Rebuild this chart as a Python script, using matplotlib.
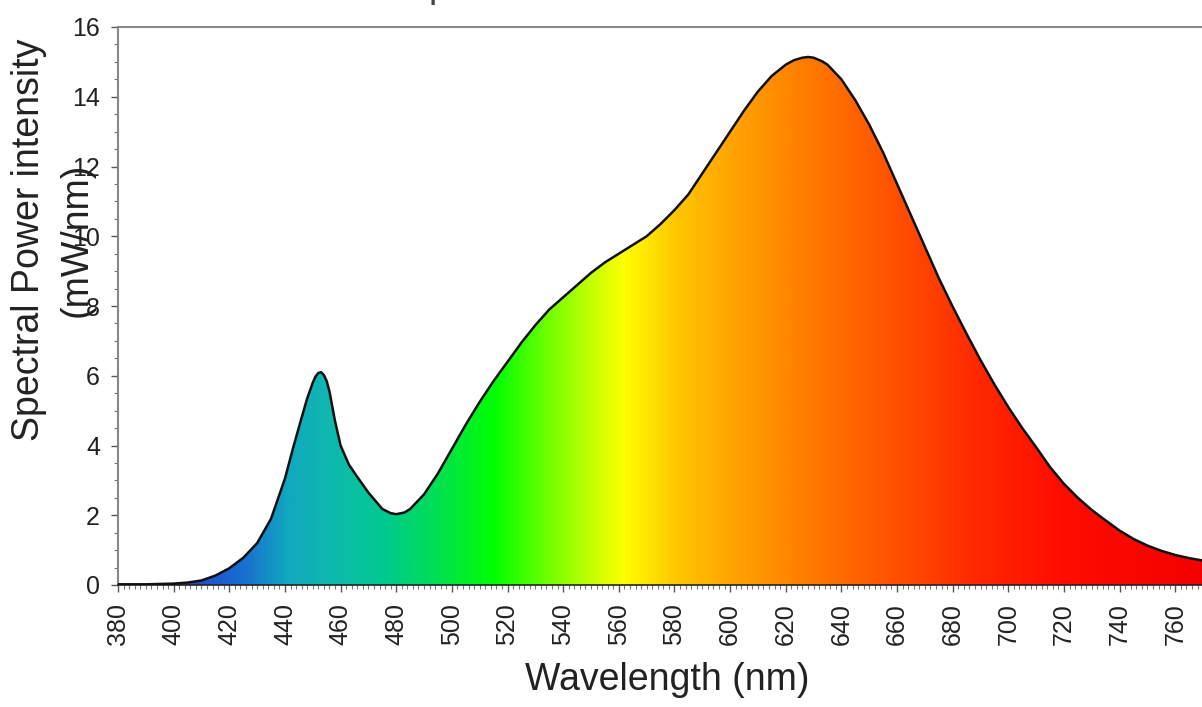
import numpy as np
import matplotlib
matplotlib.use('Agg')
import matplotlib.pyplot as plt
from matplotlib.colors import LinearSegmentedColormap
from matplotlib.ticker import MultipleLocator

# ---- data ----
wavelength = [380, 385, 390, 395, 400, 405, 410, 415, 420, 425, 430, 435, 440,
              443, 446, 448, 450, 451, 452, 453, 454, 455, 456, 458, 460, 463,
              466, 470, 475, 478, 480, 483, 485, 490, 495, 500, 505, 510, 515,
              520, 525, 530, 535, 540, 545, 550, 555, 560, 565, 570, 575, 580,
              585, 590, 595, 600, 605, 610, 615, 620, 623, 626, 628, 630, 633,
              635, 640, 645, 650, 655, 660, 665, 670, 675, 680, 685, 690, 695,
              700, 705, 710, 715, 720, 725, 730, 735, 740, 745, 750, 755, 760,
              765, 770, 775]
intensity = [0.02, 0.02, 0.02, 0.03, 0.04, 0.07, 0.13, 0.27, 0.48, 0.78, 1.2,
             1.9, 3.05, 3.95, 4.8, 5.35, 5.8, 5.98, 6.08, 6.1, 6.02, 5.85, 5.55,
             4.7, 4.0, 3.45, 3.1, 2.65, 2.18, 2.06, 2.03, 2.08, 2.18, 2.6, 3.2,
             3.9, 4.6, 5.25, 5.85, 6.4, 6.95, 7.45, 7.9, 8.25, 8.6, 8.95, 9.25,
             9.5, 9.75, 10.0, 10.35, 10.75, 11.2, 11.8, 12.4, 13.0, 13.6, 14.15,
             14.6, 14.92, 15.05, 15.12, 15.14, 15.12, 15.02, 14.92, 14.5, 13.9,
             13.2, 12.4, 11.5, 10.6, 9.7, 8.8, 7.98, 7.2, 6.45, 5.75, 5.1, 4.5,
             3.95, 3.38, 2.9, 2.5, 2.15, 1.85, 1.56, 1.32, 1.13, 0.98, 0.86,
             0.77, 0.7, 0.63]
x_ticks = list(range(380, 761, 20))
y_ticks = [0, 2, 4, 6, 8, 10, 12, 14, 16]

# spectrum colour stops (wavelength -> colour)
spec_nm = [380, 410, 425, 440, 455, 475, 495, 515, 540, 562, 580, 600, 620,
           640, 660, 690, 720, 780]
spec_col = ['#5000a0', '#1f50d0', '#1a70d0', '#10a8c0', '#10b8b0', '#00c890',
            '#00e050', '#00ff00', '#90ff00', '#ffff00', '#ffc800', '#ffa500',
            '#ff8800', '#ff6a00', '#ff5000', '#ff2800', '#ff0c00', '#f00000']

plt.rcParams['font.family'] = ['Liberation Sans', 'DejaVu Sans']

fig = plt.figure(figsize=(12.02, 7.07), dpi=100)
ax = fig.add_axes([118 / 1202, 122 / 707, 1099 / 1202, 558 / 707])

xmin, xmax = 380, 775
ymin, ymax = 0, 16

# gradient fill clipped to the area under the curve
lo, hi = spec_nm[0], spec_nm[-1]
cmap = LinearSegmentedColormap.from_list(
    'spec', [((w - lo) / (hi - lo), c) for w, c in zip(spec_nm, spec_col)])
xs = np.linspace(xmin, xmax, 1200)
grad = ((xs - lo) / (hi - lo))[None, :]
im = ax.imshow(grad, extent=[xmin, xmax, ymin, ymax], aspect='auto',
               cmap=cmap, vmin=0, vmax=1, origin='lower', zorder=1,
               interpolation='bilinear')
poly = ax.fill_between(wavelength, intensity, 0, facecolor='none',
                       edgecolor='none', zorder=1)
clip = poly.get_paths()[0]
im.set_clip_path(clip, transform=ax.transData)

ax.plot(wavelength, intensity, color='#111111', lw=1.8, zorder=3,
        solid_joinstyle='round')

ax.set_xlim(xmin, xmax)
ax.set_ylim(ymin, ymax)
ax.set_xticks(x_ticks)
ax.set_xticklabels([str(t) for t in x_ticks], rotation=90)
ax.set_yticks(y_ticks)
ax.set_yticklabels([str(t) for t in y_ticks])
ax.xaxis.set_minor_locator(MultipleLocator(2))
ax.yaxis.set_minor_locator(MultipleLocator(0.5))
ax.tick_params(axis='both', which='major', direction='out', length=5,
               width=1, colors='#555555', labelcolor='#222222', labelsize=18)
ax.tick_params(axis='both', which='minor', direction='out', length=3,
               width=0.8, colors='#777777')
ax.tick_params(axis='x', pad=8)
ax.tick_params(axis='y', pad=8)

for s in ['left', 'top', 'right']:
    ax.spines[s].set_color('#888888')
    ax.spines[s].set_linewidth(1.5)
ax.spines['bottom'].set_color('#222222')
ax.spines['bottom'].set_linewidth(1.2)

ax.set_xlabel('Wavelength (nm)', fontsize=27, color='#222222', labelpad=12)
fig.text(53 / 1202, 1 - 240 / 707, 'Spectral Power intensity\n(mW/nm)',
         rotation=90, ha='center', va='center', fontsize=27,
         color='#222222', multialignment='center', linespacing=1.4)

# title, almost entirely cut off at the top edge of the picture
fig.text(630 / 1202, 1 + 3 / 707, 'Spectral Power Distribution',
         ha='center', va='baseline', fontsize=27, color='#444444')

fig.savefig('out.png', dpi=100)
